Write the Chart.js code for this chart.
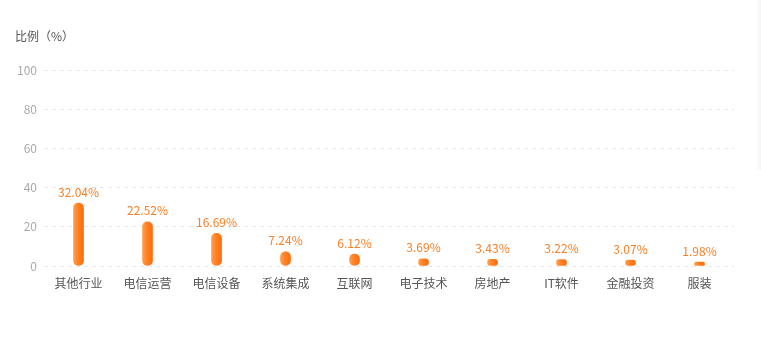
<!DOCTYPE html>
<html>
<head>
<meta charset="utf-8">
<script src="https://cdn.jsdelivr.net/npm/chart.js@4.4.1/dist/chart.umd.min.js"></script>
<style>
    html, body { margin: 0; padding: 0; background: #fff; }
    #wrap { position: relative; width: 761px; height: 346px; }
    #unit {
        position: absolute; left: 15px; top: 27px;
        font: 12px 'Noto Sans CJK SC', sans-serif; color: #555;
    }
    #edge {
        position: absolute; right: 0; top: 0; width: 5px; height: 170px;
        background: linear-gradient(to right, rgba(0,0,0,0), rgba(0,0,0,0.04));
    }
</style>
</head>
<body>
<div id="wrap">
    <canvas id="industryChart" width="761" height="346"></canvas>
    <div id="unit">比例（%）</div>
    <div id="edge"></div>
</div>
<script>
// industry categories and their share (%)
const industries = ['其他行业', '电信运营', '电信设备', '系统集成', '互联网', '电子技术', '房地产', 'IT软件', '金融投资', '服装'];
const shares = [32.04, 22.52, 16.69, 7.24, 6.12, 3.69, 3.43, 3.22, 3.07, 1.98];
const yTicks = [0, 20, 40, 60, 80, 100];

const FONT = "'Noto Sans CJK SC', 'Noto Sans', sans-serif";

// small plugin to write the percentage above each bar
const valueLabels = {
    id: 'valueLabels',
    afterDatasetsDraw(chart) {
        const ctx = chart.ctx;
        const meta = chart.getDatasetMeta(0);
        ctx.save();
        ctx.font = '12px ' + FONT;
        ctx.fillStyle = '#f5822a';
        ctx.textAlign = 'center';
        ctx.textBaseline = 'bottom';
        meta.data.forEach((bar, i) => {
            ctx.fillText(shares[i].toFixed(2) + '%', bar.x, bar.y - 5);
        });
        ctx.restore();
    }
};

function barColor(context) {
    const chart = context.chart;
    if (!chart.chartArea || !chart.scales.x) return '#ff7d1f';
    const x = chart.scales.x.getPixelForValue(context.dataIndex);
    const g = chart.ctx.createLinearGradient(x - 5, 0, x + 5, 0);
    g.addColorStop(0, '#ffa04e');
    g.addColorStop(0.45, '#ff8024');
    g.addColorStop(1, '#ff6c0c');
    return g;
}

new Chart(document.getElementById('industryChart'), {
    type: 'bar',
    data: {
        labels: industries,
        datasets: [{
            data: shares,
            backgroundColor: barColor,
            barThickness: 10,
            borderRadius: 5,
            borderSkipped: false
        }]
    },
    options: {
        responsive: false,
        animation: false,
        layout: { padding: { top: 70, right: 27, left: 0, bottom: 0 } },
        plugins: {
            legend: { display: false },
            tooltip: { enabled: false }
        },
        scales: {
            x: {
                grid: { display: false },
                border: { display: false },
                ticks: {
                    color: '#555',
                    font: { family: FONT, size: 12 },
                    padding: 2,
                    maxRotation: 0,
                    autoSkip: false
                },
                afterFit(scale) { scale.height = 80; }
            },
            y: {
                min: 0,
                max: 100,
                afterBuildTicks(scale) { scale.ticks = yTicks.map(v => ({ value: v })); },
                grid: {
                    color: '#e8e8e8',
                    drawTicks: false
                },
                border: { display: false, dash: [4, 4] },
                ticks: {
                    color: '#aaa',
                    font: { family: FONT, size: 12 },
                    padding: 7
                },
                afterFit(scale) { scale.width = 44; }
            }
        }
    },
    plugins: [valueLabels]
});
</script>
</body>
</html>
